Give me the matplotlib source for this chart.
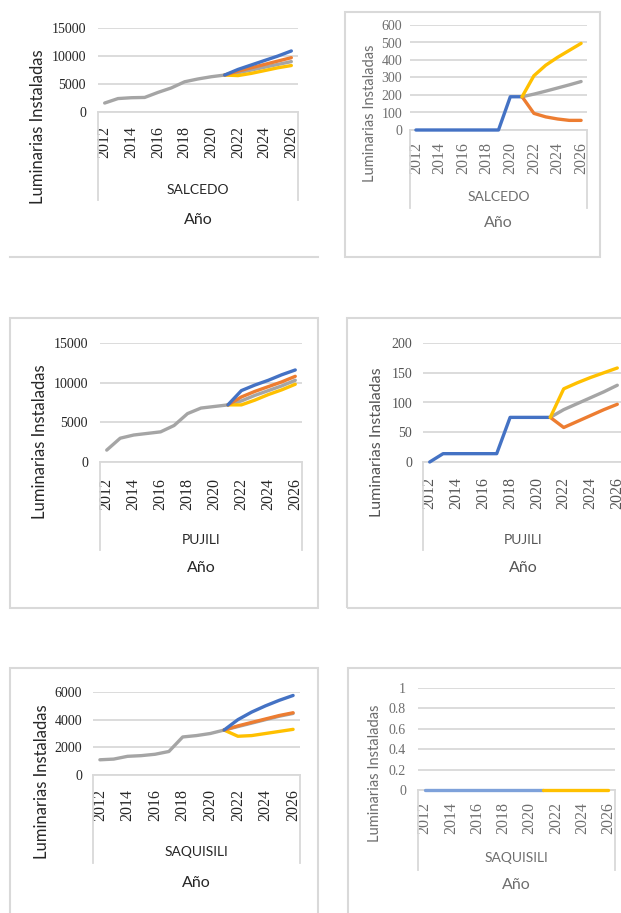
import matplotlib
matplotlib.use('Agg')
import matplotlib.pyplot as plt
from matplotlib.lines import Line2D
from matplotlib.patches import Rectangle
from matplotlib.transforms import blended_transform_factory

# datos de luminarias instaladas
anios = list(range(2012, 2027))
anios_hist = anios[:10]          # 2012-2021
anios_proy = anios[9:]           # 2021-2026

# SALCEDO
salcedo_hist = [1600, 2400, 2550, 2600, 3500, 4300, 5400, 5900, 6300, 6600]
salcedo_alto = [6600, 7600, 8400, 9200, 10000, 10900]
salcedo_medio = [6600, 7300, 7900, 8500, 9100, 9700]
salcedo_gris = [6600, 7000, 7500, 8000, 8500, 9000]
salcedo_bajo = [6600, 6500, 6900, 7400, 7900, 8300]

salcedo2_hist = [0, 0, 0, 0, 0, 0, 0, 0, 190, 190]
salcedo2_sup = [190, 310, 370, 415, 455, 495]
salcedo2_med = [190, 205, 222, 240, 258, 277]
salcedo2_inf = [190, 95, 75, 63, 55, 55]

# PUJILI
pujili_hist = [1500, 3000, 3400, 3600, 3800, 4600, 6100, 6800, 7000, 7200]
pujili_alto = [7200, 9000, 9700, 10300, 11000, 11600]
pujili_medio = [7200, 8200, 8900, 9500, 10100, 10800]
pujili_gris = [7200, 7700, 8400, 9000, 9600, 10300]
pujili_bajo = [7200, 7200, 7800, 8500, 9100, 9800]

pujili2_hist = [0, 14, 14, 14, 14, 14, 75, 75, 75, 75]
pujili2_sup = [75, 123, 133, 142, 150, 158]
pujili2_med = [75, 88, 98, 108, 118, 129]
pujili2_inf = [75, 58, 68, 78, 88, 97]

# SAQUISILI
saquisili_hist = [1100, 1150, 1350, 1400, 1500, 1700, 2750, 2850, 3000, 3250]
saquisili_alto = [3250, 4000, 4550, 5000, 5400, 5750]
saquisili_medio = [3250, 3550, 3800, 4050, 4300, 4500]
saquisili_gris = [3250, 3500, 3750, 4000, 4250, 4450]
saquisili_bajo = [3250, 2800, 2850, 3000, 3150, 3300]

saquisili2_hist = [0] * 10
saquisili2_sup = [0] * 6

AZUL = '#4472C4'
NARANJA = '#ED7D31'
GRIS = '#A5A5A5'
AMARILLO = '#FFC000'
GRID = '#d9d9d9'

W, H = 621, 913
fig = plt.figure(figsize=(W / 100, H / 100), dpi=100)


def fx(x):
    return x / W


def fy(y):
    return 1 - y / H


def panel(x0, x1, y0, y1, ybot, ymax, ytick, ylabels, series, canton,
          y_anios, y_canton, y_anio, x_ylab, y_ylab, lab_right, color_txt,
          ylab_size, right_line=True):
    ax = fig.add_axes([fx(x0), fy(y1), (x1 - x0) / W, (y1 - y0) / H])
    for xs, ys, c in series:
        ax.plot(xs, ys, color=c, lw=2.4, solid_capstyle='round', clip_on=False,
                zorder=3)
    ax.set_xlim(2011.5, 2026.5)
    ax.set_ylim(0, ymax)
    ax.set_yticks(ytick)
    ax.set_yticklabels(ylabels, family='Liberation Serif', fontsize=10, color=color_txt)
    ax.tick_params(axis='y', length=0, pad=(x0 - lab_right) / 1.389)
    ax.set_xticks([])
    ax.yaxis.grid(True, color=GRID, lw=1.3)
    ax.set_axisbelow(True)
    for s in ['left', 'top', 'right']:
        ax.spines[s].set_visible(False)
    ax.spines['bottom'].set_color(GRID)
    ax.spines['bottom'].set_linewidth(1.3)
    # eje de categorias multinivel
    fig.add_artist(Line2D([fx(x0), fx(x0)], [fy(y1), fy(ybot)], color=GRID, lw=1.3))
    if right_line:
        fig.add_artist(Line2D([fx(x1), fx(x1)], [fy(y1), fy(ybot)], color=GRID, lw=1.3))
    tr = blended_transform_factory(ax.transData, fig.transFigure)
    for a in anios[::2]:
        ax.text(a, fy(y_anios), str(a), transform=tr, rotation=90, ha='center',
                va='center', family='Liberation Serif', fontsize=11.5,
                color=color_txt, clip_on=False)
    fig.text(fx((x0 + min(x1, W)) / 2 if right_line else (x0 + x1) / 2), fy(y_canton),
             canton, ha='center', va='center', family='Lato', fontsize=10,
             color=color_txt)
    fig.text(fx((x0 + x1) / 2), fy(y_anio), 'Año', ha='center', va='center',
             family='Lato', fontsize=11.5, color=color_txt)
    fig.text(fx(x_ylab), fy(y_ylab), 'Luminarias Instaladas', rotation=90,
             ha='center', va='center', family='Lato', fontsize=ylab_size,
             color=color_txt)
    return ax


def marco(x0, x1, y0, y1):
    fig.add_artist(Rectangle((fx(x0), fy(y1)), (x1 - x0) / W, (y1 - y0) / H,
                             fill=False, edgecolor=GRID, lw=1.5))


# marcos de cada grafico
fig.add_artist(Line2D([fx(10), fx(318)], [fy(257), fy(257)], color=GRID, lw=1.5))
marco(345, 600, 12, 257)
marco(10, 318, 318, 608)
marco(347, 640, 318, 608)
marco(10, 318, 668, 940)
marco(348, 640, 668, 940)

OSC = '#262626'
CLA = '#6e6e6e'
lab15k = ['0', '5000', '10000', '15000']

panel(98, 298, 28, 112, 200, 15000, [0, 5000, 10000, 15000], lab15k,
      [(anios_hist, salcedo_hist, GRIS), (anios_proy, salcedo_gris, GRIS),
       (anios_proy, salcedo_bajo, AMARILLO), (anios_proy, salcedo_medio, NARANJA),
       (anios_proy, salcedo_alto, AZUL)],
      'SALCEDO', 142, 190, 220, 38, 127, 86, OSC, 12)

panel(410, 587, 25, 130, 208, 600, list(range(0, 601, 100)),
      [str(v) for v in range(0, 601, 100)],
      [(anios_hist, salcedo2_hist, AZUL), (anios_proy, salcedo2_med, GRIS),
       (anios_proy, salcedo2_inf, NARANJA), (anios_proy, salcedo2_sup, AMARILLO)],
      'SALCEDO', 158, 197, 223, 370, 113, 402, CLA, 10.5)

panel(100, 302, 343, 462, 550, 15000, [0, 5000, 10000, 15000], lab15k,
      [(anios_hist, pujili_hist, GRIS), (anios_proy, pujili_gris, GRIS),
       (anios_proy, pujili_bajo, AMARILLO), (anios_proy, pujili_medio, NARANJA),
       (anios_proy, pujili_alto, AZUL)],
      'PUJILI', 494, 540, 568, 40, 442, 88, OSC, 12)

panel(423, 624, 343, 462, 550, 200, [0, 50, 100, 150, 200],
      ['0', '50', '100', '150', '200'],
      [(anios_hist, pujili2_hist, AZUL), (anios_proy, pujili2_med, GRIS),
       (anios_proy, pujili2_inf, NARANJA), (anios_proy, pujili2_sup, AMARILLO)],
      'PUJILI', 493, 540, 568, 377, 442, 412, '#555555', 11.5, right_line=False)

panel(93, 300, 692, 775, 863, 6000, [0, 2000, 4000, 6000],
      ['0', '2000', '4000', '6000'],
      [(anios_hist, saquisili_hist, GRIS), (anios_proy, saquisili_gris, GRIS),
       (anios_proy, saquisili_bajo, AMARILLO), (anios_proy, saquisili_medio, NARANJA),
       (anios_proy, saquisili_alto, AZUL)],
      'SAQUISILI', 805, 852, 883, 42, 782, 82, OSC, 12)

panel(418, 615, 688, 790, 870, 1, [0, 0.2, 0.4, 0.6, 0.8, 1],
      ['0', '0.2', '0.4', '0.6', '0.8', '1'],
      [(anios_hist, saquisili2_hist, '#7EA1DA'), (anios_proy, saquisili2_sup, AMARILLO)],
      'SAQUISILI', 818, 858, 885, 375, 773, 406, CLA, 10.5)

plt.savefig('out.png', dpi=100)
